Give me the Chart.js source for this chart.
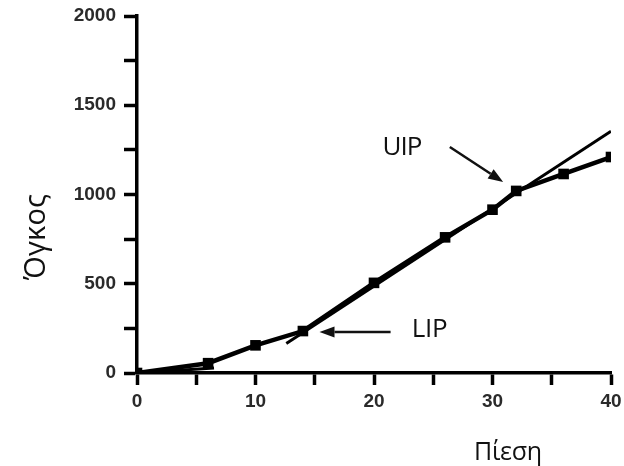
<!DOCTYPE html>
<html>
<head>
<meta charset="utf-8">
<script src="https://cdn.jsdelivr.net/npm/chart.js@4/dist/chart.umd.min.js"></script>
<style>
  html, body { margin: 0; padding: 0; background: #fff; }
  #wrap { width: 624px; height: 466px; position: relative; }
</style>
</head>
<body>
<div id="wrap"><canvas id="pvChart"></canvas></div>
<script>
// Pressure-volume curve with lower / upper inflection points

const pressure = [0, 6, 10, 14, 20, 26, 30, 32, 36, 40];
const volume   = [0, 55, 155, 235, 505, 760, 915, 1020, 1115, 1210];

// straight fits drawn over the curve
const steepFitX = [12.6, 40];
const steepFitY = [165, 1355];
const lowFitX = [0, 6.5];
const lowFitY = [0, 28];

// annotation arrows: [tailX, tailY, tipX, tipY] in data units
const uipArrow = [26.4, 1266, 30.9, 1070];
const lipArrow = [21.4, 230, 15.4, 230];
const uipLabel = ['UIP', 22.4, 1260];
const lipLabel = ['LIP', 24.7, 245];

const xTitle = 'Πίεση';
const yTitle = 'Όγκος';

const toPoints = (xs, ys) => xs.map((x, i) => ({ x: x, y: ys[i] }));

const labelFont = '26px "Open Sans", "Noto Sans", sans-serif';
const xTitleFont = '25px "Open Sans", "Noto Sans", sans-serif';
const yTitleFont = '29px "Open Sans", "Noto Sans", sans-serif';

// squeeze or spread a string so it covers the given width
function drawFitted(ctx, text, x, y, width) {
  ctx.letterSpacing = '0px';
  const natural = ctx.measureText(text).width;
  const gap = (width - natural) / Math.max(text.length - 1, 1);
  ctx.letterSpacing = gap.toFixed(2) + 'px';
  ctx.fillText(text, x + gap / 2, y);
  ctx.letterSpacing = '0px';
}

const annotations = {
  id: 'annotations',
  afterDraw(chart) {
    const { ctx, scales: { x, y } } = chart;
    ctx.save();
    ctx.strokeStyle = '#111';
    ctx.fillStyle = '#111';
    ctx.lineWidth = 2.5;

    [uipArrow, lipArrow].forEach(a => {
      const x0 = x.getPixelForValue(a[0]), y0 = y.getPixelForValue(a[1]);
      const x1 = x.getPixelForValue(a[2]), y1 = y.getPixelForValue(a[3]);
      const ang = Math.atan2(y1 - y0, x1 - x0);
      const head = 15, wing = 5.5;
      const bx = x1 - head * Math.cos(ang), by = y1 - head * Math.sin(ang);
      ctx.beginPath();
      ctx.moveTo(x0, y0);
      ctx.lineTo(bx, by);
      ctx.stroke();
      ctx.beginPath();
      ctx.moveTo(x1, y1);
      ctx.lineTo(bx + wing * Math.sin(ang), by - wing * Math.cos(ang));
      ctx.lineTo(bx - wing * Math.sin(ang), by + wing * Math.cos(ang));
      ctx.closePath();
      ctx.fill();
    });

    ctx.font = labelFont;
    ctx.textAlign = 'center';
    ctx.textBaseline = 'middle';
    drawFitted(ctx, uipLabel[0], x.getPixelForValue(uipLabel[1]), y.getPixelForValue(uipLabel[2]), 40);
    drawFitted(ctx, lipLabel[0], x.getPixelForValue(lipLabel[1]), y.getPixelForValue(lipLabel[2]), 36);

    // axis titles
    ctx.textBaseline = 'alphabetic';
    ctx.font = xTitleFont;
    drawFitted(ctx, xTitle, 508, 460, 68);
    ctx.font = yTitleFont;
    ctx.translate(45, 237);
    ctx.rotate(-Math.PI / 2);
    drawFitted(ctx, yTitle, 0, 0, 86);
    ctx.restore();
  }
};

const tickFont = { family: '"Liberation Sans", Arial, sans-serif', size: 19, weight: 'bold' };

new Chart(document.getElementById('pvChart'), {
  type: 'line',
  data: {
    datasets: [
      {
        data: toPoints(pressure, volume),
        borderColor: '#000',
        backgroundColor: '#000',
        borderWidth: 4.5,
        pointStyle: 'rect',
        pointRadius: 7.5,
        pointBorderWidth: 0,
        tension: 0
      },
      {
        data: toPoints(steepFitX, steepFitY),
        borderColor: '#000',
        borderWidth: 3,
        pointRadius: 0
      },
      {
        data: toPoints(lowFitX, lowFitY),
        borderColor: '#000',
        borderWidth: 3,
        pointRadius: 0
      }
    ]
  },
  options: {
    responsive: true,
    maintainAspectRatio: false,
    animation: false,
    layout: { padding: { left: 0, right: 13, top: 16, bottom: 0 } },
    plugins: { legend: { display: false }, tooltip: { enabled: false } },
    scales: {
      x: {
        type: 'linear',
        min: 0,
        max: 40,
        afterFit(scale) {
          scale.height = 93;
          scale.paddingLeft = 0;
          scale.paddingRight = 0;
        },
        border: { display: true, color: '#000', width: 3.5 },
        grid: { drawOnChartArea: false, color: '#000', tickLength: 12, tickWidth: 3.5 },
        ticks: {
          stepSize: 5,
          padding: 5,
          color: '#2a2a2a',
          font: tickFont,
          maxRotation: 0,
          autoSkip: false,
          callback: v => (v % 10 === 0 ? v : '')
        }
      },
      y: {
        min: 0,
        max: 2000,
        afterFit(scale) {
          scale.width = 137;
          scale.paddingTop = 0;
          scale.paddingBottom = 0;
        },
        border: { display: true, color: '#000', width: 3.5 },
        grid: { drawOnChartArea: false, color: '#000', tickLength: 13, tickWidth: 3.5 },
        ticks: {
          stepSize: 250,
          padding: 8,
          color: '#2a2a2a',
          font: tickFont,
          autoSkip: false,
          callback: v => (v % 500 === 0 ? v : '')
        }
      }
    }
  },
  plugins: [annotations]
});
</script>
</body>
</html>
